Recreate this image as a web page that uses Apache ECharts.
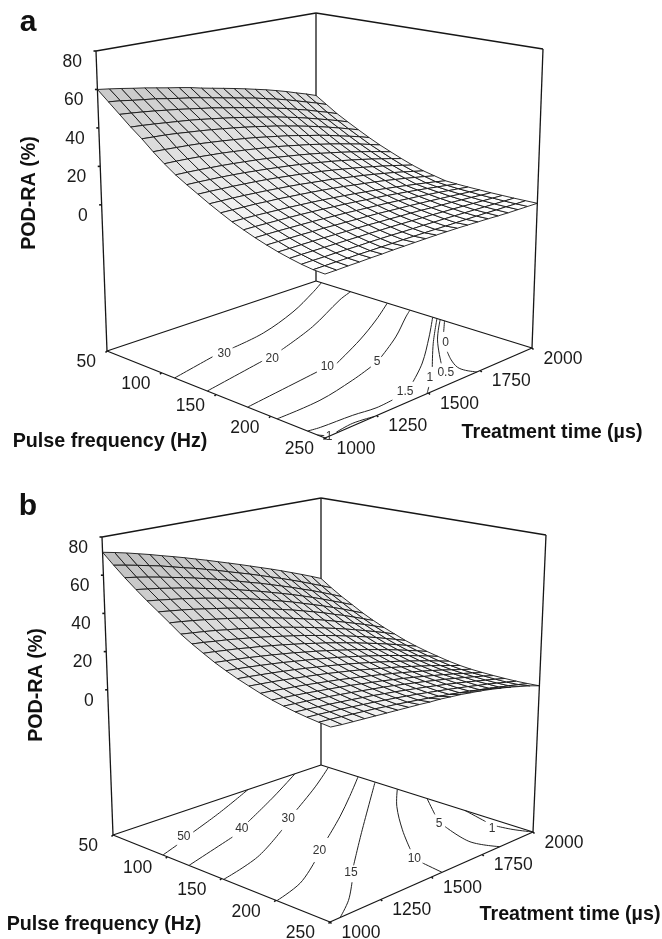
<!DOCTYPE html>
<html><head><meta charset="utf-8">
<style>html,body{margin:0;padding:0;background:#fff}#c{width:662px;height:939px}</style>
<script src="https://cdn.jsdelivr.net/npm/echarts@6/dist/echarts.min.js"></script>
</head><body><div id="c"></div>
<script>
// ---- data ----
const zTicks = [0, 20, 40, 60, 80];
const freqTicks = [50, 100, 150, 200, 250];
const timeTicks = [1000, 1250, 1500, 1750, 2000];
const zRange = [-76, 80];
const gridFreq = [50,59.4,68.9,78.5,88.1,97.8,107.5,117.3,127.1,137,147,157,167.1,177.3,187.5,197.8,208.1,218.5,228.9,239.4,250];
const gridTime = [1000,1055,1109,1163,1216,1269,1321,1373,1424,1475,1525,1575,1624,1673,1721,1769,1816,1863,1909,1955,2000];

const surfaceA = [
[60,59.1,58.1,57,56,54.8,53.6,52.5,51.3,49.8,48.5,47.2,45.9,44.5,43,41.5,39.8,38,36,34.1,32],
[55,54.3,53.3,52.4,51.6,50.4,49.3,48.3,47.1,45.8,44.5,43.2,41.9,40.6,39,37.5,35.8,33.9,32,30.1,28],
[50,49.4,48.7,47.9,47,46.1,45.1,44,43,41.7,40.5,39.2,37.9,36.5,35,33.5,31.7,30,28,26.1,24],
[45,44.5,43.9,43.2,42.5,41.8,40.9,39.9,38.9,37.8,36.6,35.4,34.1,32.8,31.3,29.8,28.1,26.3,24.5,22.6,20.6],
[40.5,40.1,39.7,39.1,38.4,37.7,36.9,36,35.1,34.1,33,31.8,30.6,29.2,27.8,26.3,24.7,23,21.2,19.3,17.4],
[35.5,35.2,34.8,34.4,33.9,33.2,32.5,31.7,30.9,30,28.9,27.8,26.7,25.4,24,22.7,21.2,19.5,17.9,16.2,14.3],
[31,30.8,30.5,30.1,29.6,29.1,28.4,27.7,26.9,26.1,25.2,24.1,23,21.9,20.6,19.3,17.9,16.4,14.9,13.2,11.5],
[27,26.8,26.5,26.1,25.7,25.2,24.6,24,23.3,22.5,21.6,20.7,19.7,18.6,17.4,16.2,14.9,13.5,12.1,10.6,9],
[23.7,23.5,23.2,22.9,22.5,22,21.4,20.8,20.1,19.4,18.6,17.7,16.7,15.7,14.6,13.4,12.2,10.9,9.5,8.1,6.6],
[20.6,20.4,20.1,19.8,19.4,19,18.5,17.9,17.2,16.5,15.7,14.9,14,13,12,10.9,9.7,8.5,7.2,5.8,4.4],
[17.5,17.3,17.1,16.8,16.4,16,15.5,15,14.4,13.7,13,12.3,11.4,10.5,9.6,8.6,7.5,6.4,5.2,3.9,2.6],
[14.7,14.5,14.3,14.1,13.7,13.4,12.9,12.4,11.9,11.3,10.7,10,9.2,8.4,7.6,6.7,5.7,4.7,3.6,2.5,1.3],
[12,11.9,11.7,11.4,11.1,10.8,10.4,10,9.5,9,8.4,7.8,7.1,6.4,5.6,4.8,3.9,3,2.1,1.1,0],
[9.8,9.7,9.5,9.3,9.1,8.8,8.5,8.1,7.7,7.3,6.8,6.2,5.7,5.1,4.4,3.7,3,2.2,1.4,.6,-.3],
[7.7,7.6,7.5,7.3,7.1,6.9,6.6,6.3,6,5.6,5.2,4.8,4.4,3.9,3.3,2.8,2.2,1.6,.9,.2,-.5],
[5.9,5.8,5.7,5.6,5.4,5.3,5,4.8,4.5,4.3,4,3.6,3.2,2.9,2.4,2,1.5,1,.5,0,-.6],
[4.3,4.2,4.2,4.1,4,3.8,3.6,3.5,3.3,3,2.8,2.5,2.3,2,1.6,1.3,1,.6,.2,-.3,-.7],
[3,3,2.9,2.8,2.7,2.6,2.5,2.4,2.2,2.1,1.9,1.7,1.5,1.3,1,.8,.5,.2,-.1,-.4,-.7],
[1.9,1.9,1.8,1.8,1.7,1.6,1.6,1.5,1.4,1.2,1.1,1,.8,.7,.5,.3,.1,-.1,-.3,-.5,-.7],
[1.1,1.1,1.1,1,1,.9,.9,.8,.8,.7,.6,.5,.4,.3,.2,.1,0,-.2,-.3,-.5,-.6],
[.8,.8,.9,.9,1,1,1.1,1.1,1.1,1.1,1.1,1,.9,.7,.5,.3,0,-.2,-.3,-.4,-.5]
];
const surfaceB = [
[72,70.7,69.3,67.7,66.1,64.3,62.6,60.8,58.9,57,55,53,51,48.9,46.8,44.7,42.5,40.2,37.9,35.5,33],
[66.6,65.4,64.1,62.7,61.3,59.6,57.9,56.3,54.5,52.7,50.7,48.8,46.9,44.8,42.7,40.6,38.4,36.1,33.7,31.3,28.8],
[61.5,60.5,59.3,58,56.6,55.2,53.7,52.1,50.4,48.7,46.8,44.9,43.1,41,39,36.9,34.6,32.4,30,27.5,25],
[56.8,55.8,54.8,53.6,52.4,51,49.5,48.1,46.6,44.8,43.1,41.3,39.4,37.5,35.5,33.4,31.2,28.9,26.5,24.1,21.6],
[52.4,51.5,50.5,49.5,48.3,47.1,45.7,44.3,42.8,41.3,39.6,37.8,36,34.1,32,29.9,27.8,25.5,23.2,20.7,18.2],
[48.3,47.4,46.5,45.5,44.3,43.1,41.9,40.5,39,37.5,35.9,34.2,32.5,30.6,28.7,26.7,24.5,22.4,20.1,17.7,15.3],
[44.2,43.4,42.5,41.5,40.4,39.3,38.1,36.8,35.4,33.9,32.4,30.8,29.1,27.3,25.5,23.5,21.5,19.4,17.3,15,12.7],
[40,39.2,38.4,37.5,36.4,35.4,34.2,33,31.7,30.4,28.9,27.4,25.8,24.1,22.4,20.6,18.7,16.7,14.7,12.6,10.4],
[36.6,35.9,35,34.2,33.2,32.2,31.1,29.9,28.6,27.3,26,24.5,23,21.4,19.7,18,16.2,14.3,12.3,10.3,8.2],
[33.5,32.8,32,31.2,30.2,29.3,28.2,27.1,25.9,24.7,23.3,22,20.5,19,17.4,15.7,14,12.2,10.3,8.4,6.4],
[30.5,29.8,29.1,28.3,27.4,26.5,25.5,24.5,23.3,22.2,20.9,19.6,18.2,16.8,15.3,13.7,12.1,10.4,8.6,6.8,4.9],
[28,27.4,26.7,25.9,25.1,24.2,23.2,22.2,21.2,20,18.9,17.6,16.3,14.9,13.5,12,10.4,8.8,7.1,5.4,3.6],
[25.7,25.1,24.4,23.7,22.9,22.1,21.2,20.2,19.2,18.1,17,15.8,14.5,13.2,11.8,10.4,8.9,7.4,5.8,4.1,2.4],
[23.7,23.1,22.5,21.8,21,20.2,19.4,18.5,17.5,16.5,15.4,14.2,13,11.8,10.5,9.1,7.7,6.3,4.7,3.1,1.5],
[21.8,21.3,20.6,20,19.3,18.5,17.7,16.9,15.9,15,14,12.9,11.8,10.6,9.4,8.1,6.8,5.4,3.9,2.4,.9],
[20.2,19.7,19.1,18.5,17.8,17.1,16.4,15.6,14.7,13.8,12.9,11.8,10.8,9.7,8.5,7.3,6.1,4.8,3.4,2,.6],
[18.9,18.4,17.9,17.3,16.7,16,15.3,14.5,13.7,12.9,12,11,10,9,7.9,6.8,5.6,4.4,3.1,1.8,.4],
[17.8,17.3,16.8,16.3,15.7,15.1,14.4,13.7,12.9,12.1,11.2,10.3,9.4,8.4,7.4,6.3,5.2,4,2.8,1.6,.3],
[16.9,16.5,16,15.5,14.9,14.3,13.7,13,12.3,11.5,10.7,9.8,8.9,8,7,6,4.9,3.9,2.7,1.5,.3],
[16.2,15.8,15.3,14.8,14.3,13.8,13.1,12.5,11.8,11.1,10.3,9.5,8.7,7.8,6.9,5.9,4.9,3.8,2.8,1.7,.5],
[15.6,15,14.6,14.2,13.8,13.4,13,12.6,12.2,11.7,11.4,10.8,10.2,9.4,8.6,7.6,6.5,5.3,3.9,2.5,.8]
];

// contour lines as [frequency, time] points; each level has its pieces and its label point
const contoursA = [
 {level:'30', at:[105,1275], parts:[[[112,1000],[103,1229]], [[101,1336],[96,1509],[82,1724],[65,1906],[55,2000]]]},
 {level:'20', at:[132,1364], parts:[[[142,1000],[131,1321]], [[126,1440],[111,1667],[88,1918],[82,2000]]]},
 {level:'10', at:[169,1436], parts:[[[179,1000],[170,1381]], [[169,1482],[151,1686],[133,1858],[116,2000]]]},
 {level:'5', at:[187,1581], parts:[[[206,1000],[205,1212],[197,1412],[190,1536]], [[183,1622],[165,1786],[144,1944],[137,2000]]]},
 {level:'1.5', at:[237,1455], parts:[[[234,1000],[236,1051],[238,1197],[241,1294],[240,1378]], [[229,1535],[211,1674],[182,1858],[158,2000]]]},
 {level:'1', at:[233,1596], parts:[[[162,2000],[192,1826],[221,1670]], [[243,1538],[250,1493]]]},
 {level:'1', at:[250,1020], parts:[[[243,1000],[247,1012]], [[249,1060],[247,1150],[250,1240]]]},
 {level:'0.5', at:[235,1662], parts:[[[165,2000],[190,1857],[221,1713]]]},
 {level:'0', at:[197,1859], parts:[[[169,2000],[183,1923]], [[210,1800],[222,1756],[234,1723],[242,1720],[250,1734]]]}
];
const contoursB = [
 {level:'50', at:[83,1169], parts:[[[96,1000],[90,1100]], [[81,1225],[68,1419],[50,1649]]]},
 {level:'40', at:[99,1366], parts:[[[120,1000],[105,1289]], [[93,1427],[72,1658],[50,1875]]]},
 {level:'30', at:[108,1544], parts:[[[152,1000],[141,1223],[119,1456]], [[100,1626],[78,1829],[57,2000]]]},
 {level:'20', at:[163,1409], parts:[[[201,1000],[192,1162],[174,1327]], [[151,1511],[130,1680],[108,1841],[85,2000]]]},
 {level:'15', at:[205,1342], parts:[[[250,1050],[235,1171],[216,1289]], [[197,1397],[161,1624],[101,2000]]]},
 {level:'10', at:[219,1579], parts:[[[250,1552],[229,1567]], [[206,1627],[178,1735],[145,1879],[122,2000]]]},
 {level:'5', at:[189,1857], parts:[[[250,1837],[228,1805],[196,1850]], [[175,1909],[150,2000]]]},
 {level:'1', at:[224,1935], parts:[[[250,2000],[236,1975],[223,1963]], [[211,1970],[186,2000]]]}
];

// ---- layout of the two boxes (screen corners of each plot cube) ----
const panels = [
 {surface:surfaceA, contours:contoursA,
  floor:{A:[107,351],D:[325,438],B:[316,281],C:[532,348]},
  top:{A:[96,51],D:[325,105],B:[316,13],C:[543,49]}, freqDx:-11},
 {surface:surfaceB, contours:contoursB,
  floor:{A:[113,835],D:[330,922],B:[321,765],C:[533,832]},
  top:{A:[102,537],D:[331,590],B:[321,498],C:[546,535]}, freqDx:-15}
];
const titles = [
 {text:'a', x:28, y:23, size:30, rot:0},
 {text:'Pulse frequency (Hz)', x:110, y:441.5, size:19.7, rot:0},
 {text:'Treatment time (\u00b5s)', x:552, y:432.5, size:19.7, rot:0},
 {text:'POD-RA (%)', x:29.5, y:193, size:19.7, rot:Math.PI/2},
 {text:'b', x:28, y:507, size:30, rot:0},
 {text:'Pulse frequency (Hz)', x:104, y:924.5, size:19.7, rot:0},
 {text:'Treatment time (\u00b5s)', x:570, y:914.5, size:19.7, rot:0},
 {text:'POD-RA (%)', x:36.5, y:685, size:19.7, rot:Math.PI/2}
];

// ---- projection of (frequency, time, value) into the plane of a hidden cartesian grid ----
const mix = (a,b,k)=>[a[0]+(b[0]-a[0])*k, a[1]+(b[1]-a[1])*k];
function project(p, f, t, z){
  const u=(f-50)/200, v=(t-1000)/1000, w=(z-zRange[0])/(zRange[1]-zRange[0]);
  const bil=q=>mix(mix(q.A,q.D,u),mix(q.B,q.C,u),v);
  return mix(bil(p.floor),bil(p.top),w);
}
const LINE='#161616', FONT='"Liberation Sans",Arial,sans-serif', zLow=zRange[0];
const seriesList=[];
const custom=(name,data,renderItem,z)=>seriesList.push({type:'custom',name,coordinateSystem:'cartesian2d',data,renderItem,silent:true,animation:false,clip:false,z});

panels.forEach((p,pi)=>{
  // box edges
  const corner=(uu,vv,zz)=>project(p,uu?250:50,vv?2000:1000,zz?zRange[1]:zLow);
  const edges=[[0,0,0,1,0,0],[1,0,0,1,1,0],[0,0,0,0,1,0],[0,1,0,1,1,0],
               [0,0,0,0,0,1],[0,1,0,0,1,1],[1,1,0,1,1,1],[0,0,1,0,1,1],[0,1,1,1,1,1]];
  custom('box'+pi,edges,(params,api)=>{
    const e=edges[params.dataIndex];
    const a=api.coord(corner(e[0],e[1],e[2])), b=api.coord(corner(e[3],e[4],e[5]));
    return {type:'line',shape:{x1:a[0],y1:a[1],x2:b[0],y2:b[1]},style:{stroke:LINE,lineWidth:1.3}};
  },1);

  // tick marks
  const ticks=[...zTicks.map(v=>[50,1000,v,-2.5,0]),
               ...freqTicks.map(v=>[v,1000,zLow,-1.5,1.5]),
               ...timeTicks.map(v=>[250,v,zLow,1.5,1.5])];
  custom('ticks'+pi,ticks,(params,api)=>{
    const k=ticks[params.dataIndex], a=api.coord(project(p,k[0],k[1],k[2]));
    return {type:'line',shape:{x1:a[0],y1:a[1],x2:a[0]+k[3],y2:a[1]+k[4]},style:{stroke:LINE,lineWidth:1.6}};
  },2);

  // surface cells
  const cells=[];
  for(let i=0;i<gridFreq.length-1;i++) for(let j=0;j<gridTime.length-1;j++) cells.push([i,j]);
  custom('surface'+pi,cells,(params,api)=>{
    const [i,j]=cells[params.dataIndex], s=p.surface;
    const corners=[[i,j],[i+1,j],[i+1,j+1],[i,j+1]];
    const pts=corners.map(c=>api.coord(project(p,gridFreq[c[0]],gridTime[c[1]],s[c[0]][c[1]])));
    const zm=corners.reduce((acc,c)=>acc+s[c[0]][c[1]],0)/4;
    const g=Math.round(Math.min(254,254-zm*0.9));
    return {type:'polygon',shape:{points:pts},style:{fill:`rgb(${g},${g},${g})`,stroke:LINE,lineWidth:0.9,lineJoin:'round'}};
  },3);

  // contours
  const pieces=[];
  p.contours.forEach(c=>c.parts.forEach(q=>pieces.push(q)));
  custom('contours'+pi,pieces,(params,api)=>{
    const pts=pieces[params.dataIndex].map(q=>api.coord(project(p,q[0],q[1],zLow)));
    return {type:'polyline',shape:{points:pts,smooth:0.35},style:{stroke:'#222',lineWidth:1,fill:null}};
  },4);
  custom('contourLabels'+pi,p.contours,(params,api)=>{
    const c=p.contours[params.dataIndex], a=api.coord(project(p,c.at[0],c.at[1],zLow));
    return {type:'text',style:{text:c.level,x:a[0],y:a[1],align:'center',verticalAlign:'middle',font:'12px '+FONT,fill:'#333'}};
  },5);

  // tick labels
  const labelStyle=(text,x,y,align)=>({type:'text',style:{text:String(text),x,y,align,verticalAlign:'middle',font:'17.5px '+FONT,fill:'#1a1a1a'}});
  custom('zLabels'+pi,zTicks,(params,api)=>{
    const v=zTicks[params.dataIndex], a=api.coord(project(p,50,1000,v));
    return labelStyle(v,a[0]-14,a[1]+11,'right');
  },6);
  custom('fLabels'+pi,freqTicks,(params,api)=>{
    const v=freqTicks[params.dataIndex], a=api.coord(project(p,v,1000,zLow));
    return labelStyle(v,a[0]+p.freqDx,a[1]+11.5,'right');
  },6);
  custom('tLabels'+pi,timeTicks,(params,api)=>{
    const v=timeTicks[params.dataIndex], a=api.coord(project(p,250,v,zLow));
    return labelStyle(v,a[0]+31,a[1]+11,'center');
  },6);
});

custom('titles',titles,(params,api)=>{
  const t=titles[params.dataIndex], a=api.coord([t.x,t.y]);
  return {type:'text',x:a[0],y:a[1],rotation:t.rot,style:{text:t.text,x:0,y:0,align:'center',verticalAlign:'middle',font:'bold '+t.size+'px '+FONT,fill:'#111'}};
},7);

const chart=echarts.init(document.getElementById('c'),null,{width:662,height:939});
chart.setOption({
  backgroundColor:'#fff',animation:false,
  grid:{left:0,right:0,top:0,bottom:0},
  xAxis:{type:'value',min:0,max:662,show:false},
  yAxis:{type:'value',min:0,max:939,inverse:true,show:false},
  series:seriesList
});
</script></body></html>
